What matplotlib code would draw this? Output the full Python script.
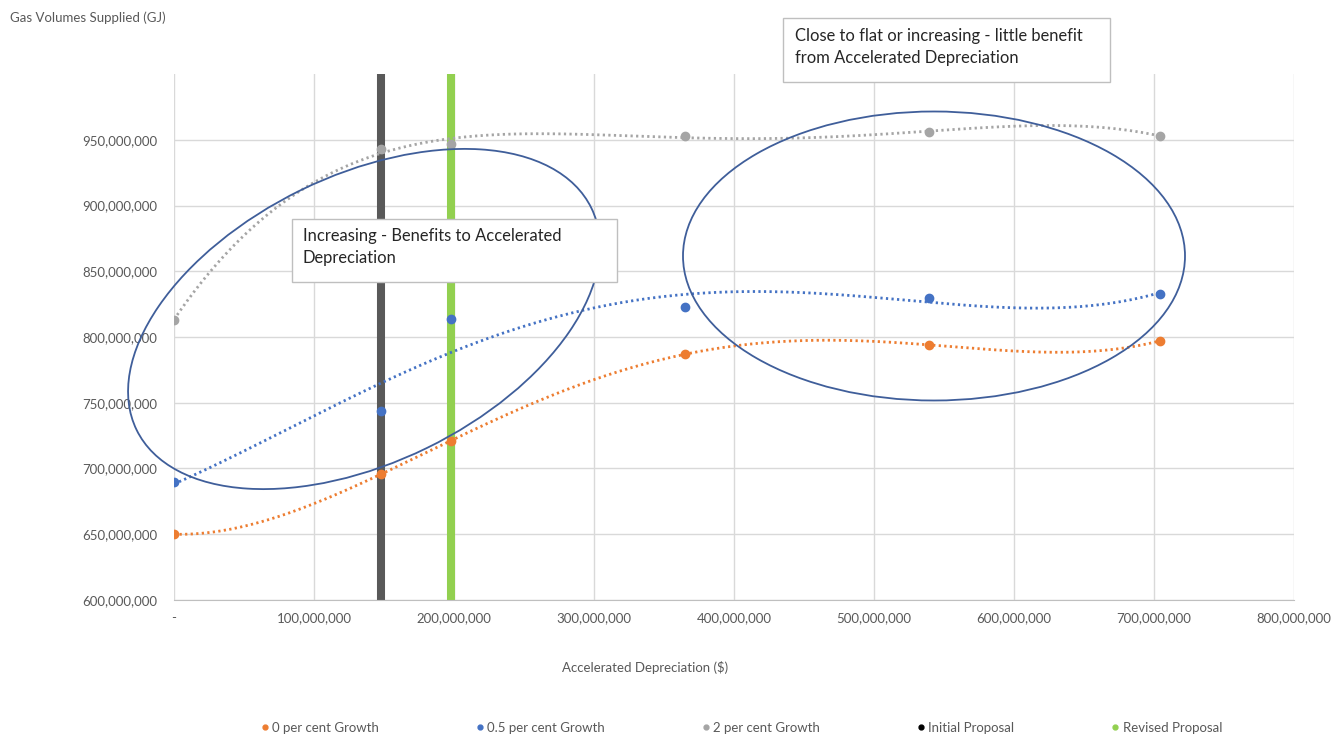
import numpy as np
import matplotlib.pyplot as plt
from matplotlib.patches import Ellipse, Rectangle
from matplotlib.transforms import Affine2D
from matplotlib.ticker import FuncFormatter

plt.rcParams['font.family'] = ['Lato', 'DejaVu Sans']

# accelerated depreciation ($) and gas volumes supplied (GJ)
depreciation = [0, 148e6, 198e6, 365e6, 539e6, 704e6]
growth_0 = [650e6, 696e6, 721e6, 787e6, 794e6, 797e6]
growth_05 = [690e6, 744e6, 814e6, 823e6, 830e6, 833e6]
growth_2 = [813e6, 943e6, 947e6, 953e6, 956e6, 953e6]
initial_proposal = 148e6
revised_proposal = 198e6

series_names = ['0 per cent Growth', '0.5 per cent Growth', '2 per cent Growth']
series_colors = ['#ED7D31', '#4472C4', '#A5A5A5']

W, H = 1343, 736
fig = plt.figure(figsize=(W / 100, H / 100), dpi=100)
ax = fig.add_axes([174 / W, 1 - 600 / H, (1294 - 174) / W, (600 - 74) / H])

# pixel coordinates (origin bottom-left) for annotations
px = Affine2D().scale(1 / W, 1 / H) + fig.transFigure

grey_text = '#595959'
ax.set_xlim(0, 800e6)
ax.set_ylim(600e6, 1000e6)
ax.set_xticks(np.arange(0, 800e6 + 1, 100e6))
ax.set_yticks(np.arange(600e6, 950e6 + 1, 50e6))
ax.grid(True, color='#D9D9D9', lw=1)
ax.set_axisbelow(True)
for s in ['top', 'right', 'left']:
    ax.spines[s].set_visible(False)
ax.spines['bottom'].set_color('#BFBFBF')
ax.tick_params(length=0, colors=grey_text, labelsize=9.5, pad=9)
ax.xaxis.set_major_formatter(FuncFormatter(lambda v, p: '-' if v == 0 else f'{v:,.0f}'))
ax.yaxis.set_major_formatter(FuncFormatter(lambda v, p: f'{v:,.0f}'))
ax.tick_params(axis='y', pad=12)

# proposal markers
ax.axvline(initial_proposal, color='#595959', lw=5.8, zorder=2)
ax.axvline(revised_proposal, color='#92D050', lw=5.8, zorder=2)

# series points and polynomial trend lines
xs = np.array(depreciation)
xfine = np.linspace(xs.min(), xs.max(), 300)
for vals, name, col in zip([growth_0, growth_05, growth_2], series_names, series_colors):
    coef = np.polyfit(xs / 1e8, np.array(vals) / 1e6, 4)
    ax.plot(xfine, np.polyval(coef, xfine / 1e8) * 1e6, color=col, lw=2,
            ls=(0, (0.8, 1.2)), zorder=3)
    ax.plot(xs, vals, 'o', color=col, ms=6, zorder=4)

# ellipses
fig.add_artist(Ellipse((364, H - 319), 506, 287, angle=26, fill=False,
                       edgecolor='#3F5E9A', lw=1.3, transform=px, zorder=5))
fig.add_artist(Ellipse((934, H - 256), 502, 289, angle=0, fill=False,
                       edgecolor='#3F5E9A', lw=1.3, transform=px, zorder=5))

# text boxes
box_font = 11.9
fig.add_artist(Rectangle((292, H - 282), 325, 63, facecolor='white',
                         edgecolor='#BFBFBF', lw=1, transform=px, zorder=6))
fig.text(303 / W, 1 - 236 / H, 'Increasing - Benefits to Accelerated', fontsize=box_font,
         color='#262626', va='center', zorder=7)
fig.text(303 / W, 1 - 258 / H, 'Depreciation', fontsize=box_font,
         color='#262626', va='center', zorder=7)
fig.add_artist(Rectangle((783, H - 82), 327, 64, facecolor='white',
                         edgecolor='#BFBFBF', lw=1, transform=px, zorder=6))
fig.text(795 / W, 1 - 36 / H, 'Close to flat or increasing - little benefit', fontsize=box_font,
         color='#262626', va='center', zorder=7)
fig.text(795 / W, 1 - 58 / H, 'from Accelerated Depreciation', fontsize=box_font,
         color='#262626', va='center', zorder=7)

# axis titles
fig.text(10 / W, 1 - 18 / H, 'Gas Volumes Supplied (GJ)', fontsize=9.5, color=grey_text, va='center')
fig.text(645 / W, 1 - 667 / H, 'Accelerated Depreciation ($)', fontsize=9.5,
         color=grey_text, va='center', ha='center')

# legend
handles = [plt.Line2D([], [], ls='none', marker='o', ms=3.5, color=c)
           for c in series_colors + ['#000000', '#92D050']]
labels = series_names + ['Initial Proposal', 'Revised Proposal']
fig.legend(handles, labels, loc='center', bbox_to_anchor=(742 / W, 1 - 728 / H), ncol=5,
           frameon=False, fontsize=9.5, labelcolor=grey_text, handlelength=0.5,
           handletextpad=0.3, columnspacing=7.4)

fig.savefig('out.png', dpi=100)
